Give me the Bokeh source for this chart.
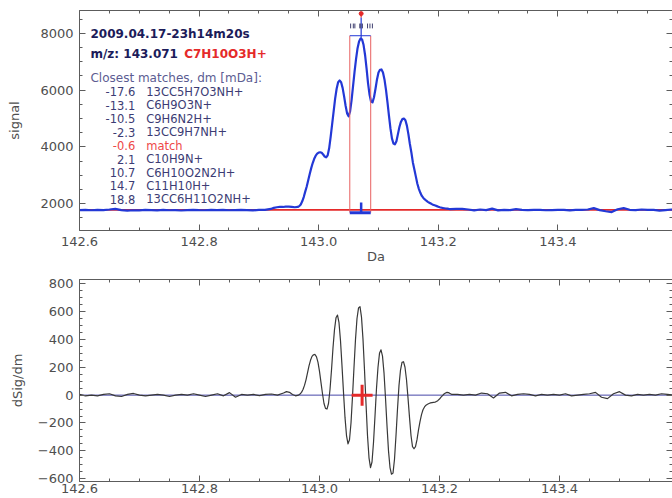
from bokeh.plotting import figure
from bokeh.layouts import column
from bokeh.models import (Range1d, LinearAxis, SingleIntervalTicker, PrintfTickFormatter,
                          CustomJSTickFormatter, ColumnDataSource, Label)
from bokeh.core.properties import value
from bokeh.embed import file_html
from bokeh.resources import INLINE

# ---------------- data ----------------
mz_signal = [142.60, 142.61, 142.62, 142.63, 142.64, 142.65, 142.66, 142.67, 142.68, 142.69,
             142.70, 142.71, 142.72, 142.73, 142.74, 142.75, 142.76, 142.77, 142.78, 142.79,
             142.80, 142.81, 142.82, 142.83, 142.84, 142.85, 142.86, 142.87, 142.88, 142.89,
             142.90, 142.91, 142.92, 142.925, 142.93, 142.935, 142.94, 142.945, 142.95, 142.955,
             142.96,
             142.965, 142.9675, 142.97, 142.9725, 142.975, 142.9775, 142.98, 142.9825, 142.985, 142.9875,
             142.99, 142.9925, 142.995, 142.9975, 143.000, 143.0025, 143.005, 143.0075, 143.010, 143.0125,
             143.015, 143.0175, 143.020, 143.0225, 143.025, 143.0275, 143.030, 143.0325, 143.035, 143.0375,
             143.040, 143.0425, 143.045, 143.0475, 143.050, 143.0525, 143.055, 143.0575, 143.060, 143.0625,
             143.065, 143.0675, 143.070, 143.0725, 143.075, 143.0775, 143.080, 143.0825, 143.085, 143.0875,
             143.090, 143.0925, 143.095, 143.0975, 143.100, 143.1025, 143.105, 143.1075, 143.110, 143.1125,
             143.115, 143.1175, 143.120, 143.1225, 143.125, 143.1275, 143.130, 143.1325, 143.135, 143.1375,
             143.140, 143.1425, 143.145, 143.1475, 143.150, 143.1525, 143.155, 143.1575, 143.160, 143.1625,
             143.165, 143.1675, 143.170, 143.1725, 143.175, 143.1775, 143.180, 143.1825, 143.185, 143.1875,
             143.190, 143.1925, 143.195, 143.1975, 143.200, 143.2025, 143.205, 143.2075, 143.210, 143.2125,
             143.215, 143.2175, 143.220,
             143.23, 143.24, 143.25, 143.26, 143.27, 143.28, 143.29, 143.30, 143.31, 143.32,
             143.33, 143.34, 143.35, 143.36, 143.37, 143.38, 143.39, 143.40, 143.41, 143.42,
             143.43, 143.44, 143.45, 143.46, 143.47, 143.48, 143.49, 143.50, 143.51, 143.52,
             143.53, 143.54, 143.55, 143.56, 143.57, 143.58, 143.59, 143.60]
signal = [1770, 1780, 1765, 1775, 1770, 1790, 1815, 1770, 1750, 1765,
          1760, 1775, 1770, 1760, 1775, 1765, 1770, 1755, 1770, 1780,
          1770, 1765, 1780, 1770, 1775, 1765, 1770, 1775, 1770, 1760,
          1775, 1780, 1810, 1850, 1870, 1880, 1880, 1895, 1890, 1880,
          1870,
          1880, 1910, 1970, 2080, 2230, 2420, 2600, 2820, 3040, 3250,
          3430, 3580, 3690, 3760, 3800, 3810, 3790, 3730, 3660, 3630,
          3700, 3950, 4350, 4800, 5250, 5700, 6050, 6280, 6340, 6280,
          6080, 5780, 5450, 5180, 5080, 5250, 5650, 6150, 6650, 7100,
          7480, 7720, 7820, 7790, 7600, 7250, 6780, 6250, 5850, 5600,
          5570, 5750, 6050, 6380, 6620, 6720, 6730, 6620, 6380, 6020,
          5580, 5100, 4650, 4300, 4120, 4090, 4200, 4450, 4700, 4880,
          4980, 5000, 4940, 4750, 4450, 4100, 3800, 3450, 3200, 2950,
          2700, 2520, 2380, 2270, 2200, 2145, 2100, 2060, 2030, 2000,
          1970, 1950, 1930, 1910, 1890, 1870, 1855, 1845, 1835, 1825,
          1820, 1810, 1805,
          1815, 1810, 1790, 1760, 1790, 1770, 1820, 1760, 1780, 1770,
          1805, 1780, 1770, 1780, 1775, 1765, 1770, 1775, 1780, 1760,
          1775, 1780, 1790, 1840, 1770, 1730, 1700, 1800, 1840, 1780,
          1770, 1790, 1775, 1780, 1750, 1770, 1790, 1780]

mz_deriv = [142.60, 142.61, 142.62, 142.63, 142.64, 142.65, 142.66, 142.67, 142.68, 142.69,
            142.70, 142.71, 142.72, 142.73, 142.74, 142.75, 142.76, 142.77, 142.78, 142.79,
            142.80, 142.81, 142.82, 142.83, 142.84, 142.85, 142.86, 142.87, 142.88, 142.89,
            142.90, 142.91, 142.92, 142.93, 142.94, 142.945, 142.95, 142.955, 142.96,
            142.965, 142.9675, 142.97, 142.9725, 142.975, 142.9775, 142.98, 142.9825, 142.985, 142.9875,
            142.99, 142.9925, 142.995, 142.9975, 143.000, 143.0025, 143.005, 143.0075, 143.010, 143.0125,
            143.015, 143.0175, 143.020, 143.0225, 143.025, 143.0275, 143.030, 143.0325, 143.035, 143.0375,
            143.040, 143.0425, 143.045, 143.0475, 143.050, 143.0525, 143.055, 143.0575, 143.060, 143.0625,
            143.065, 143.0675, 143.070, 143.0725, 143.075, 143.0775, 143.080, 143.0825, 143.085, 143.0875,
            143.090, 143.0925, 143.095, 143.0975, 143.100, 143.1025, 143.105, 143.1075, 143.110, 143.1125,
            143.115, 143.1175, 143.120, 143.1225, 143.125, 143.1275, 143.130, 143.1325, 143.135, 143.1375,
            143.140, 143.1425, 143.145, 143.1475, 143.150, 143.1525, 143.155, 143.1575, 143.160, 143.1625,
            143.165, 143.1675, 143.170, 143.1725, 143.175, 143.1775, 143.180, 143.1825, 143.185, 143.1875,
            143.190, 143.1925, 143.195, 143.1975, 143.200, 143.2025, 143.205, 143.2075, 143.210, 143.2125,
            143.215, 143.2175, 143.220,
            143.23, 143.24, 143.25, 143.26, 143.27, 143.28, 143.29, 143.30, 143.31, 143.32,
            143.33, 143.34, 143.35, 143.36, 143.37, 143.38, 143.39, 143.40, 143.41, 143.42,
            143.43, 143.44, 143.45, 143.46, 143.47, 143.48, 143.49, 143.50, 143.51, 143.52,
            143.53, 143.54, 143.55, 143.56, 143.57, 143.58, 143.59, 143.60]
dsig_dm = [5, -5, 0, -5, 5, 10, -5, -10, 5, 12,
           0, -5, 0, 5, 0, -10, 0, 5, 0, 10,
           0, -10, 0, 10, -5, 18, -15, 5, 0, 5,
           -3, 5, 8, 0, 15, 25, 20, 5, -5,
           0, 8, 20, 40, 70, 110, 160, 210, 250, 278,
           290, 292, 275, 235, 170, 90, 10, -60, -95, -100,
           -60, 40, 180, 340, 470, 555, 575, 520, 390, 210,
           20, -160, -290, -350, -320, -200, -10, 200, 400, 550,
           625, 635, 560, 400, 180, -60, -290, -450, -520, -480,
           -340, -150, 50, 200, 300, 325, 280, 160, -20, -220,
           -400, -520, -568, -560, -460, -290, -100, 70, 180, 235,
           240, 200, 110, -20, -160, -290, -370, -385, -370, -320,
           -250, -190, -140, -105, -85, -72, -65, -60, -56, -54,
           -52, -50, -46, -38, -28, -15, -3, 8, 15, 20,
           18, 12, 6,
           5, 0, 5, 0, 15, 10, -20, 15, 20, -5,
           5, 10, 5, -5, 5, 0, 5, 0, 10, -5,
           0, 5, 10, 20, -15, -25, 10, 25, 0, -5,
           5, 0, 5, 0, 10, 5, 0, 5]

baseline = 1777
peak_mz = 143.071
peak_signal = 7820
window_lo, window_hi = 143.052, 143.087
match_dm = [-17.6, -13.1, -10.5, -2.3, -0.6, 2.1, 10.7, 14.7, 18.8]
match_formula = ["13CC5H7O3NH+", "C6H9O3N+", "C9H6N2H+", "13CC9H7NH+", "match",
                 "C10H9N+", "C6H10O2N2H+", "C11H10H+", "13CC6H11O2NH+"]
timestamp = "2009.04.17-23h14m20s"
mz_text = "m/z: 143.071"
formula_text = "C7H10O3H+"
list_header = "Closest matches, dm [mDa]:"

# ---------------- styling ----------------
FONT = "DejaVu Sans"
AX = "#5c5c5c"
TXT = "#4e4e4e"
BLUE = "#2338d6"
RED = "#e52a2a"
NAVY = "#1c1c5a"
ROWS = "#3c3c74"
SLATE = "#5c5c92"

W = 672
LEFT_TOP, LEFT_BOT = 77, 79
PX_PER_DA = 600.0
X0 = 142.6
NO_LABELS = CustomJSTickFormatter(code="return '';")


def style_axis(ax, labels=True, standoff=6):
    ax.axis_line_color = AX
    ax.axis_line_width = 1
    ax.major_tick_line_color = AX
    ax.minor_tick_line_color = AX
    ax.major_tick_in = 6
    ax.major_tick_out = 0
    ax.minor_tick_in = 3
    ax.minor_tick_out = 0
    ax.major_label_text_font = FONT
    ax.major_label_text_color = TXT
    ax.major_label_text_font_size = "13px"
    ax.major_label_standoff = standoff if labels else 0
    if not labels:
        ax.formatter = NO_LABELS
    ax.axis_label_text_font = FONT
    ax.axis_label_text_font_style = "normal"
    ax.axis_label_text_color = TXT
    ax.axis_label_text_font_size = "13px"


def xticker():
    return SingleIntervalTicker(interval=0.2, num_minor_ticks=4)


# ---------------- top panel ----------------
H_TOP = 266
Y0_TOP, Y1_TOP = 1050, 8810
top_end = X0 + (W - LEFT_TOP) / PX_PER_DA
top = figure(width=W, height=H_TOP, x_range=Range1d(X0, top_end), y_range=Range1d(Y0_TOP, Y1_TOP),
             output_backend="svg", toolbar_location=None,
             min_border_left=LEFT_TOP, min_border_right=0, min_border_top=10, min_border_bottom=36)
top.grid.visible = False
top.outline_line_color = None

top.xaxis.ticker = xticker()
top.xaxis.formatter = PrintfTickFormatter(format="%.1f")
top.xaxis.axis_label = "Da"
top.yaxis.ticker = SingleIntervalTicker(interval=2000, num_minor_ticks=4)
top.yaxis.axis_label = "signal"
for a in top.xaxis + top.yaxis:
    style_axis(a)
top.xaxis.axis_label_standoff = 0
top.yaxis.axis_label_standoff = 15

ax_t = LinearAxis(ticker=xticker())
style_axis(ax_t, labels=False)
top.add_layout(ax_t, "above")
ax_r = LinearAxis(ticker=SingleIntervalTicker(interval=2000, num_minor_ticks=4))
style_axis(ax_r, labels=False)
ax_r.axis_line_color = None
top.add_layout(ax_r, "right")

# baseline and signal
top.line([X0, top_end], [baseline, baseline], line_color=RED, line_width=1.6)
top.line(mz_signal, signal, line_color=BLUE, line_width=2.2, line_join="round")

# mass window
box_bottom, box_top = 1680, 7920
top.segment(x0=[window_lo, window_hi], y0=[box_bottom, box_bottom],
            x1=[window_lo, window_hi], y1=[box_top, box_top], line_color="#e86060", line_width=1)
top.segment(x0=[window_lo], y0=[box_top], x1=[window_hi], y1=[box_top], line_color=BLUE, line_width=1)
top.segment(x0=[window_lo], y0=[box_bottom], x1=[window_hi], y1=[box_bottom], line_color=BLUE, line_width=3)
top.segment(x0=[peak_mz], y0=[box_bottom], x1=[peak_mz], y1=[2040], line_color=BLUE, line_width=2.5)
top.segment(x0=[peak_mz], y0=[8560], x1=[peak_mz], y1=[peak_signal], line_color=BLUE, line_width=1.2)
top.segment(x0=[peak_mz], y0=[8700], x1=[peak_mz], y1=[8560], line_color=RED, line_width=1.2)
top.scatter([peak_mz], [8700], size=4, color=RED, marker="circle")

# candidate positions
cand_x = [peak_mz + d / 1000.0 for d in match_dm]
top.segment(x0=cand_x, y0=[8180] * len(cand_x), x1=cand_x, y1=[8350] * len(cand_x),
            line_color="#404070", line_width=1)


def px_to_x(px, left=LEFT_TOP):
    return X0 + (px - left) / PX_PER_DA


def py_to_y(py):
    return Y1_TOP - (py - 10) * (Y1_TOP - Y0_TOP) / 220.0


top.add_layout(Label(x=px_to_x(88), y=py_to_y(33), text=timestamp, text_font=FONT,
                     text_font_size="12px", text_font_style="bold", text_color=NAVY,
                     text_baseline="middle"))
top.add_layout(Label(x=px_to_x(88), y=py_to_y(53), text=mz_text, text_font=FONT,
                     text_font_size="12px", text_font_style="bold", text_color=NAVY,
                     text_baseline="middle"))
top.add_layout(Label(x=px_to_x(182), y=py_to_y(53), text=formula_text, text_font=FONT,
                     text_font_size="12px", text_font_style="bold", text_color=RED,
                     text_baseline="middle"))
top.add_layout(Label(x=px_to_x(88), y=py_to_y(77), text=list_header, text_font=FONT,
                     text_font_size="12px", text_color=SLATE, text_baseline="middle"))

rows_y = [py_to_y(91.3 + 13.45 * i) for i in range(len(match_dm))]
rows_col = [("#ee4848" if f == "match" else ROWS) for f in match_formula]
src = ColumnDataSource(dict(xn=[px_to_x(133)] * len(match_dm), xf=[px_to_x(144)] * len(match_dm),
                            y=rows_y, num=["%.1f" % d for d in match_dm], formula=match_formula,
                            color=rows_col))
top.text(x="xn", y="y", text="num", source=src, text_align="right", text_baseline="middle",
         text_font=value(FONT), text_font_size="11.5px", text_color="color")
top.text(x="xf", y="y", text="formula", source=src, text_align="left", text_baseline="middle",
         text_font=value(FONT), text_font_size="11.5px", text_color="color")

# ---------------- bottom panel ----------------
H_BOT = 498 - H_TOP
Y0_BOT, Y1_BOT = -620, 830
bot_end = X0 + (W - LEFT_BOT) / PX_PER_DA
bot = figure(width=W, height=H_BOT, x_range=Range1d(X0, bot_end), y_range=Range1d(Y0_BOT, Y1_BOT),
             output_backend="svg", toolbar_location=None,
             min_border_left=LEFT_BOT, min_border_right=0, min_border_top=13, min_border_bottom=17)
bot.grid.visible = False
bot.outline_line_color = None

bot.xaxis.ticker = xticker()
bot.xaxis.formatter = PrintfTickFormatter(format="%.1f")
bot.yaxis.ticker = SingleIntervalTicker(interval=200, num_minor_ticks=4)
bot.yaxis.axis_label = "dSig/dm"
for a in bot.xaxis + bot.yaxis:
    style_axis(a)
bot.xaxis.major_label_standoff = 2
bot.yaxis.axis_label_standoff = 10

bx_t = LinearAxis(ticker=xticker())
style_axis(bx_t, labels=False)
bot.add_layout(bx_t, "above")
bx_r = LinearAxis(ticker=SingleIntervalTicker(interval=200, num_minor_ticks=4))
style_axis(bx_r, labels=False)
bx_r.axis_line_color = None
bot.add_layout(bx_r, "right")

bot.line([X0, bot_end], [0, 0], line_color="#4646a8", line_width=1)
bot.line(mz_deriv, dsig_dm, line_color="#383838", line_width=1.2, line_join="round")
bot.scatter([peak_mz], [0], marker="cross", size=21, line_color=RED, line_width=3)

layout = column(top, bot, spacing=0)
open("out.html", "w").write(file_html(layout, INLINE))
